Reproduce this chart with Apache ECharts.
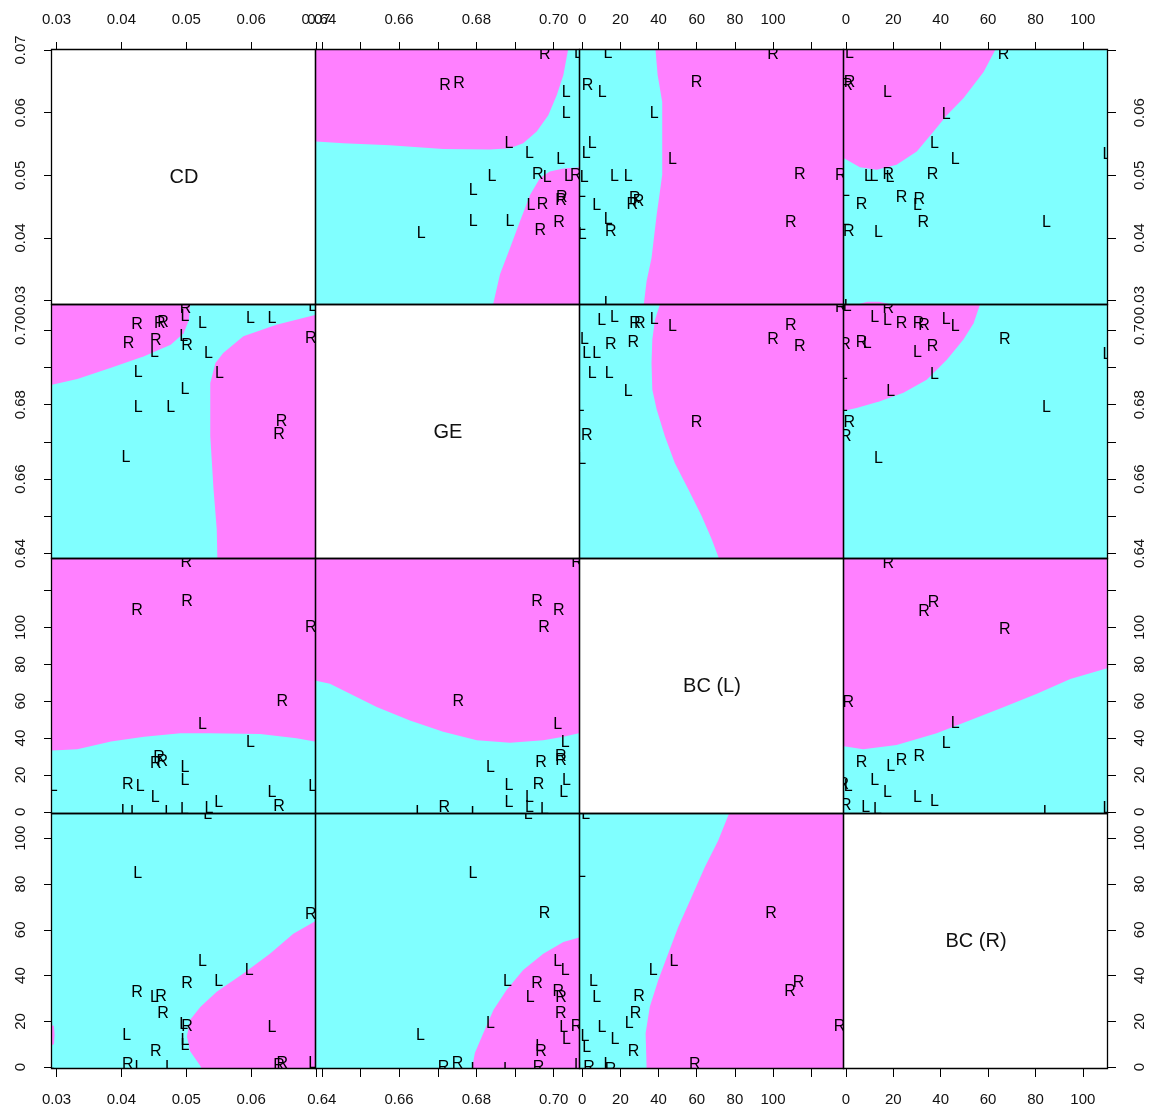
<!DOCTYPE html>
<html>
<head>
<meta charset="utf-8">
<script src="https://cdn.jsdelivr.net/npm/echarts@6/dist/echarts.min.js"></script>
<style>
  html, body { margin: 0; padding: 0; background: #fff; }
  #chart { width: 1155px; height: 1113px; }
</style>
</head>
<body>
<div id="chart"></div>
<script>
// Variables (row / column order of the matrix)
const VAR_NAMES = ['CD', 'GE', 'BC (L)', 'BC (R)']
const VAR_KEYS = ['CD', 'GE', 'BCL', 'BCR']
const VAR_RANGES = [[0.0293, 0.07], [0.6385, 0.7068], [-1.2, 137.2], [-0.8, 110.6]]

// Tick marks and tick labels for each side
const TICKS = [
  [0.03, 0.04, 0.05, 0.06, 0.07],
  [0.64, 0.65, 0.66, 0.67, 0.68, 0.69, 0.70],
  [0, 20, 40, 60, 80, 100, 120],
  [0, 20, 40, 60, 80, 100],
]
const LABELS_TOP = [
  [0.03, 0.04, 0.05, 0.06, 0.07],
  [0.64, 0.66, 0.68, 0.70],
  [0, 20, 40, 60, 80, 100],
  [0, 20, 40, 60, 80, 100],
]
const LABELS_BOTTOM = [
  [0.03, 0.04, 0.05, 0.06],
  [0.64, 0.66, 0.68, 0.70],
  [0, 20, 40, 60, 80, 100],
  [0, 20, 40, 60, 80, 100],
]
const LABELS_LEFT = LABELS_TOP
const LABELS_RIGHT = LABELS_BOTTOM

// Points for each pair, [x, y, class], x = column variable of the upper panel
const pts_GE_CD = [
  [0.6977, 0.0692, 'R'], [0.6719, 0.0643, 'R'], [0.6755, 0.0647, 'R'], [0.7032, 0.0632, 'L'],
  [0.7032, 0.0599, 'L'], [0.6884, 0.0551, 'L'], [0.6937, 0.0534, 'L'], [0.7018, 0.0525, 'L'],
  [0.6840, 0.0498, 'L'], [0.6959, 0.0501, 'R'], [0.6983, 0.0496, 'L'], [0.7038, 0.0498, 'L'],
  [0.7057, 0.0499, 'R'], [0.6792, 0.0476, 'L'], [0.7021, 0.0464, 'R'], [0.7019, 0.0459, 'R'],
  [0.6941, 0.0451, 'L'], [0.6971, 0.0453, 'R'], [0.6792, 0.0426, 'L'], [0.6887, 0.0426, 'L'],
  [0.7014, 0.0424, 'R'], [0.6965, 0.0411, 'R'], [0.6657, 0.0407, 'L'], [0.7064, 0.0695, 'L'],
]
const pts_BCL_CD = [
  [100.0, 0.0692, 'R'], [2.8, 0.0643, 'R'], [10.5, 0.0632, 'L'], [59.9, 0.0648, 'R'],
  [37.7, 0.0599, 'L'], [5.2, 0.0550, 'L'], [2.0, 0.0535, 'L'], [47.3, 0.0525, 'L'],
  [1.0, 0.0497, 'L'], [16.8, 0.0498, 'L'], [24.1, 0.0498, 'L'], [114.0, 0.0501, 'R'],
  [135.5, 0.0500, 'R'], [-0.5, 0.0473, 'L'], [27.5, 0.0463, 'R'], [29.5, 0.0458, 'R'],
  [26.2, 0.0453, 'R'], [7.5, 0.0452, 'L'], [-0.5, 0.0420, 'L'], [13.6, 0.0429, 'L'],
  [15.0, 0.0410, 'R'], [0.0, 0.0406, 'L'], [109.3, 0.0424, 'R'], [13.6, 0.0295, 'L'],
  [13.5, 0.0695, 'L'],
]
const pts_BCR_CD = [
  [66.5, 0.0692, 'R'], [1.5, 0.0648, 'R'], [0.5, 0.0643, 'R'], [17.5, 0.0632, 'L'],
  [42.3, 0.0597, 'L'], [37.4, 0.0550, 'L'], [46.1, 0.0525, 'L'], [110.2, 0.0533, 'L'],
  [9.5, 0.0498, 'L'], [11.8, 0.0498, 'L'], [17.9, 0.0501, 'R'], [18.6, 0.0496, 'L'],
  [36.6, 0.0501, 'R'], [-0.2, 0.0474, 'L'], [6.6, 0.0453, 'R'], [23.5, 0.0464, 'R'],
  [31.0, 0.0461, 'R'], [30.2, 0.0451, 'L'], [32.7, 0.0424, 'R'], [84.6, 0.0425, 'L'],
  [-0.2, 0.0427, 'L'], [1.2, 0.0410, 'R'], [13.7, 0.0408, 'L'], [1.0, 0.0290, 'L'],
  [1.5, 0.0695, 'L'],
]
const pts_BCL_GE = [
  [135.5, 0.7060, 'R'], [10.2, 0.7026, 'L'], [16.8, 0.7033, 'L'], [27.6, 0.7019, 'R'],
  [30.2, 0.7018, 'R'], [37.7, 0.7030, 'L'], [47.3, 0.7010, 'L'], [109.3, 0.7013, 'R'],
  [100.0, 0.6975, 'R'], [114.0, 0.6957, 'R'], [1.1, 0.6976, 'L'], [15.0, 0.6961, 'R'],
  [26.7, 0.6967, 'R'], [2.3, 0.6937, 'L'], [7.5, 0.6937, 'L'], [5.2, 0.6884, 'L'],
  [14.1, 0.6884, 'L'], [24.1, 0.6836, 'L'], [-1.2, 0.6796, 'L'], [2.3, 0.6717, 'R'],
  [-0.3, 0.6653, 'L'], [59.9, 0.6753, 'R'],
]
const pts_BCR_GE = [
  [17.9, 0.7059, 'R'], [12.2, 0.7033, 'L'], [17.5, 0.7026, 'L'], [23.5, 0.7018, 'R'],
  [30.6, 0.7019, 'R'], [33.0, 0.7012, 'R'], [42.3, 0.7030, 'L'], [46.1, 0.7010, 'L'],
  [67.0, 0.6976, 'R'], [-0.4, 0.6961, 'R'], [6.6, 0.6967, 'R'], [9.0, 0.6964, 'L'],
  [36.6, 0.6957, 'R'], [30.2, 0.6939, 'L'], [-1.1, 0.6880, 'L'], [37.4, 0.6880, 'L'],
  [18.9, 0.6836, 'L'], [-1.1, 0.6796, 'L'], [110.2, 0.6934, 'L'], [84.6, 0.6791, 'L'],
  [1.4, 0.6751, 'R'], [0.0, 0.6715, 'R'], [13.7, 0.6655, 'L'], [0.5, 0.7064, 'L'],
]
const pts_BCR_BCL = [
  [17.9, 134.8, 'R'], [33.0, 108.9, 'R'], [37.0, 113.3, 'R'], [67.0, 99.0, 'R'],
  [1.0, 59.0, 'R'], [46.1, 48.0, 'L'], [42.3, 37.2, 'L'], [6.6, 26.8, 'R'],
  [18.9, 24.6, 'L'], [23.5, 27.9, 'R'], [31.0, 29.7, 'R'], [-1.1, 14.8, 'R'],
  [1.0, 13.5, 'L'], [12.2, 17.1, 'L'], [17.5, 10.3, 'L'], [30.2, 7.6, 'L'],
  [37.4, 5.8, 'L'], [0.0, 3.5, 'R'], [8.4, 2.3, 'L'], [13.3, 1.4, 'L'],
  [84.9, -0.4, 'L'], [110.2, 1.8, 'L'], [-1.0, -0.3, 'L'],
]

// Regions classified as R (pink); the rest of each panel is L (cyan). [x, y] per vertex
const pink_GE_CD = [
  [[0.638, 0.071], [0.7040, 0.071], [0.7025, 0.0660], [0.7008, 0.0628], [0.6986, 0.0596], [0.6956, 0.0570],
   [0.6921, 0.0551], [0.6887, 0.0543], [0.6835, 0.0541], [0.6714, 0.0542], [0.6576, 0.0548], [0.6456, 0.0551], [0.638, 0.0554]],
  [[0.6838, 0.028], [0.6861, 0.0342], [0.6887, 0.0384], [0.6913, 0.0427], [0.6939, 0.0469], [0.6965, 0.0496],
   [0.6990, 0.0506], [0.7025, 0.0511], [0.707, 0.0513], [0.707, 0.028]],
]
const pink_CD_GE = [
  [[0.028, 0.707], [0.0506, 0.707], [0.0504, 0.7028], [0.0496, 0.6992], [0.0476, 0.6961], [0.0435, 0.6930],
   [0.0384, 0.6899], [0.0332, 0.6869], [0.028, 0.6848]],
  [[0.071, 0.7046], [0.0639, 0.7015], [0.0588, 0.6984], [0.0557, 0.6939], [0.0545, 0.6912], [0.0537, 0.6858],
   [0.0537, 0.6715], [0.0542, 0.6573], [0.0547, 0.6465], [0.0548, 0.638], [0.071, 0.638]],
]
const pink_BCL_CD = [
  [[38.1, 0.071], [138, 0.071], [138, 0.028], [31.7, 0.028], [33.7, 0.0331], [36.3, 0.0368], [39.0, 0.0437],
   [40.7, 0.0474], [41.9, 0.0501], [41.9, 0.0617], [39.5, 0.0660]],
]
const pink_CD_BCL = [
  [[0.028, 138], [0.071, 138], [0.071, 37.3], [0.0670, 39.9], [0.0614, 42.2], [0.0537, 42.6], [0.0491, 42.6],
   [0.0435, 40.7], [0.0384, 38.1], [0.0332, 33.9], [0.028, 33.0]],
]
const pink_BCR_CD = [
  [[-2, 0.071], [64.4, 0.071], [58.1, 0.0665], [49.6, 0.0623], [42.6, 0.0596], [37.0, 0.0570], [29.9, 0.0538],
   [21.4, 0.0517], [13.0, 0.0509], [5.9, 0.0513], [-2, 0.0530]],
  [[5, 0.028], [6, 0.0295], [9, 0.0298], [14, 0.0298], [18, 0.0295], [19, 0.028]],
]
const pink_CD_BCR = [
  [[0.071, 65.6], [0.0665, 58.3], [0.0629, 49.6], [0.0588, 40.9], [0.0547, 33.0], [0.0522, 26.4], [0.0506, 20.7],
   [0.0501, 13.4], [0.0506, 6.9], [0.0522, 0.4], [0.0526, -2], [0.071, -2]],
  [[0.028, 19.5], [0.0296, 18], [0.0297, 14], [0.0296, 10], [0.028, 8.6]],
]
const pink_BCL_GE = [
  [[40.7, 0.707], [138, 0.707], [138, 0.638], [72.1, 0.638], [67.8, 0.6439], [62.5, 0.6501], [55.5, 0.6573],
   [48.5, 0.6643], [43.3, 0.6715], [39.0, 0.6787], [36.7, 0.6841], [36.3, 0.6912], [36.7, 0.6975], [38.1, 0.7028]],
]
const pink_GE_BCL = [
  [[0.638, 138], [0.707, 138], [0.707, 42.9], [0.7025, 40.7], [0.6973, 38.8], [0.6887, 37.5], [0.6801, 38.8],
   [0.6714, 43.4], [0.6628, 49.6], [0.6542, 56.9], [0.6473, 64.1], [0.6421, 69.5], [0.638, 71.3]],
]
const pink_BCR_GE = [
  [[-2, 0.707], [56.6, 0.707], [53.9, 0.7019], [49.6, 0.6975], [42.6, 0.6921], [34.1, 0.6867], [24.3, 0.6832],
   [14.4, 0.6809], [4.5, 0.6791], [-2, 0.6782]],
]
const pink_GE_BCR = [
  [[0.707, 56.9], [0.7025, 54.7], [0.6973, 49.6], [0.6921, 42.4], [0.6878, 33.7], [0.6844, 25.0], [0.6818, 14.9],
   [0.6796, 6.2], [0.6787, -2], [0.707, -2]],
]
const pink_BCR_BCL = [
  [[-2, 138], [112, 138], [112, 78.6], [94.7, 72.1], [80.6, 64.1], [66.7, 56.9], [52.4, 49.7], [38.3, 42.6],
   [21.4, 36.3], [7.3, 34.0], [-2, 35.8]],
]
const pink_BCL_BCR = [
  [[77.5, 112], [138, 112], [138, -2], [33.7, -2], [33.7, 0.4], [33.2, 14.8], [35.4, 26.4], [39.8, 38.0],
   [45.0, 49.6], [50.3, 61.2], [57.3, 74.3], [64.2, 87.3], [71.2, 98.9]],
]

const PTS = {
  'GE|CD': pts_GE_CD, 'BCL|CD': pts_BCL_CD, 'BCR|CD': pts_BCR_CD,
  'BCL|GE': pts_BCL_GE, 'BCR|GE': pts_BCR_GE, 'BCR|BCL': pts_BCR_BCL,
}
const PINK = {
  'GE|CD': pink_GE_CD, 'CD|GE': pink_CD_GE, 'BCL|CD': pink_BCL_CD, 'CD|BCL': pink_CD_BCL,
  'BCR|CD': pink_BCR_CD, 'CD|BCR': pink_CD_BCR, 'BCL|GE': pink_BCL_GE, 'GE|BCL': pink_GE_BCL,
  'BCR|GE': pink_BCR_GE, 'GE|BCR': pink_GE_BCR, 'BCR|BCL': pink_BCR_BCL, 'BCL|BCR': pink_BCL_BCR,
}

// Colors / fonts
const COLOR_R = '#ff80ff'
const COLOR_L = '#80ffff'
const TEXT = '#111'
const FONT = '"Liberation Sans", Arial, sans-serif'

// Panel edges (pixels)
const EDGE_X = [52, 316, 580, 844, 1108]
const EDGE_Y = [50, 305, 559, 814, 1069]

const fmt = (v) => (k) => (v < 2 ? k.toFixed(2) : String(Math.round(k)))
const inRange = (list, v) => list.filter((t) => t >= VAR_RANGES[v][0] && t <= VAR_RANGES[v][1])

function panelPoints(r, c) {
  if (c > r) return PTS[VAR_KEYS[c] + '|' + VAR_KEYS[r]]
  return PTS[VAR_KEYS[r] + '|' + VAR_KEYS[c]].map((p) => [p[1], p[0], p[2]])
}

const grids = []
const xAxes = []
const yAxes = []
const series = []

for (let r = 0; r < 4; r++) {
  for (let c = 0; c < 4; c++) {
    const g = r * 4 + c
    const diag = r === c
    grids.push({
      left: EDGE_X[c], top: EDGE_Y[r],
      width: EDGE_X[c + 1] - EDGE_X[c], height: EDGE_Y[r + 1] - EDGE_Y[r],
      show: true, borderWidth: 0,
      backgroundColor: diag ? '#fff' : COLOR_L,
    })

    const xShow = r === 0 || r === 3
    xAxes.push({
      type: 'value', gridIndex: g,
      min: VAR_RANGES[c][0], max: VAR_RANGES[c][1],
      position: r === 0 ? 'top' : 'bottom',
      axisLine: { show: false, onZero: false },
      splitLine: { show: false },
      axisTick: { show: xShow, length: 8, lineStyle: { color: '#000', width: 1 }, customValues: inRange(TICKS[c], c) },
      axisLabel: {
        show: xShow, margin: 23, fontSize: 15, fontFamily: FONT, color: TEXT,
        customValues: inRange(r === 0 ? LABELS_TOP[c] : LABELS_BOTTOM[c], c),
        formatter: fmt(VAR_RANGES[c][1]),
      },
    })

    const yShow = c === 0 || c === 3
    yAxes.push({
      type: 'value', gridIndex: g,
      min: VAR_RANGES[r][0], max: VAR_RANGES[r][1],
      position: c === 0 ? 'left' : 'right',
      axisLine: { show: false, onZero: false },
      splitLine: { show: false },
      axisTick: { show: yShow, length: 8, lineStyle: { color: '#000', width: 1 }, customValues: inRange(TICKS[r], r) },
      axisLabel: {
        show: yShow, margin: 24, rotate: 90, fontSize: 15, fontFamily: FONT, color: TEXT,
        customValues: inRange(c === 0 ? LABELS_LEFT[r] : LABELS_RIGHT[r], r),
        formatter: fmt(VAR_RANGES[r][1]),
      },
    })

    if (diag) {
      series.push({
        type: 'custom', xAxisIndex: g, yAxisIndex: g, silent: true, z: 3,
        data: [[VAR_RANGES[c][0], VAR_RANGES[r][0]]],
        renderItem: (params) => {
          const cs = params.coordSys
          return {
            type: 'text', x: cs.x + cs.width / 2, y: cs.y + cs.height / 2,
            style: { text: VAR_NAMES[r], fill: TEXT, font: '20px ' + FONT, align: 'center', verticalAlign: 'middle' },
          }
        },
      })
    } else {
      const polys = PINK[VAR_KEYS[c] + '|' + VAR_KEYS[r]]
      series.push({
        type: 'custom', xAxisIndex: g, yAxisIndex: g, silent: true, clip: true, z: 2,
        data: polys.map((p) => p[0]),
        renderItem: (params, api) => ({
          type: 'polygon',
          shape: { points: polys[params.dataIndex].map((p) => api.coord(p)) },
          style: { fill: COLOR_R },
        }),
      })
      const pts = panelPoints(r, c)
      series.push({
        type: 'custom', xAxisIndex: g, yAxisIndex: g, silent: true, clip: true, z: 3,
        data: pts.map((p) => [p[0], p[1]]),
        renderItem: (params, api) => {
          const pt = api.coord([api.value(0), api.value(1)])
          return {
            type: 'text', x: pt[0], y: pt[1],
            style: { text: pts[params.dataIndex][2], fill: '#000', font: '16px ' + FONT, align: 'center', verticalAlign: 'middle' },
          }
        },
      })
    }

    // panel frame
    series.push({
      type: 'custom', xAxisIndex: g, yAxisIndex: g, silent: true, clip: false, z: 10,
      data: [[VAR_RANGES[c][0], VAR_RANGES[r][0]]],
      renderItem: (params) => {
        const cs = params.coordSys
        return {
          type: 'rect',
          shape: { x: cs.x - 0.5, y: cs.y - 0.5, width: cs.width, height: cs.height },
          style: { fill: 'none', stroke: '#000', lineWidth: 1.3 },
        }
      },
    })
  }
}

const chart = echarts.init(document.getElementById('chart'))
chart.setOption({
  animation: false,
  backgroundColor: '#fff',
  grid: grids,
  xAxis: xAxes,
  yAxis: yAxes,
  series,
})
</script>
</body>
</html>
